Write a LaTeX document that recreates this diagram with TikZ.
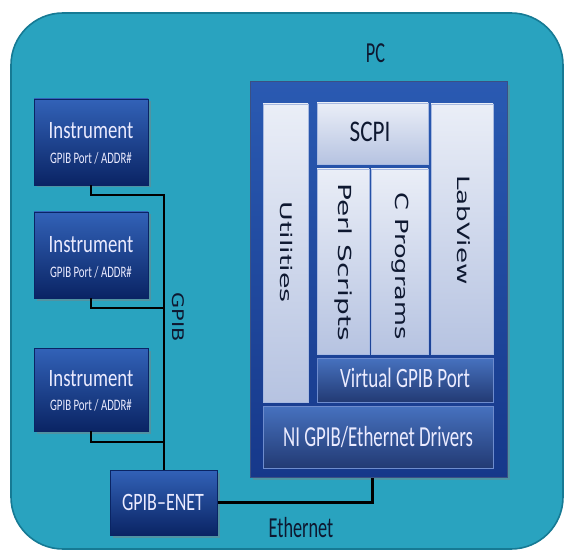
\documentclass[tikz,border=0pt]{standalone}
\usepackage{fontspec}
\setmainfont{Carlito}
\newfontfamily\dvfont{DejaVu Sans}
\usetikzlibrary{shadows}
\newcommand\sqtext[3]{\scalebox{#2}[1]{\fontsize{#1}{#1}\selectfont #3}}
\definecolor{teal1}{RGB}{41,163,191}
\definecolor{tealedge}{RGB}{22,122,148}
\definecolor{navytop}{RGB}{50,98,184}
\definecolor{navybot}{RGB}{10,36,100}
\definecolor{pctop}{RGB}{42,90,178}
\definecolor{pcbot}{RGB}{22,56,138}
\definecolor{lighttop}{RGB}{234,238,247}
\definecolor{lightbot}{RGB}{182,195,225}
\definecolor{inktext}{RGB}{14,24,48}
\definecolor{thinedge}{RGB}{110,140,205}
\begin{document}
\begin{tikzpicture}[x=1pt,y=-1pt,
  navybox/.style={draw=navybot, line width=0.6pt, top color=navytop, bottom color=navybot,
    inner sep=0, drop shadow={shadow xshift=2.5pt,shadow yshift=-2.5pt,opacity=0.45}},
  pcbox/.style={draw=navybot!80, line width=1pt, top color=pctop, bottom color=pcbot,
    inner sep=0, drop shadow={shadow xshift=3pt,shadow yshift=-3pt,opacity=0.4}},
  lightcol/.style={draw=thinedge!60!white, line width=0.5pt, top color=lighttop, bottom color=lightbot, inner sep=0},
  innerdark/.style={draw=thinedge, line width=0.7pt, top color=navytop!90, bottom color=navybot!90, inner sep=0},
  bus/.style={line width=2.2pt, black},
  whitelabel/.style={text=white!92!blue, inner sep=0, anchor=base},
  darklabel/.style={text=inktext, inner sep=0, anchor=base}]
\useasboundingbox (0,0) rectangle (565,556);
% outer frame
\draw[draw=tealedge, line width=1.6pt, fill=teal1, rounded corners=52pt] (11,13) rectangle (563,549);

% PC block
\node[pcbox, minimum width=257pt, minimum height=395pt] (pc) at (378.5,279.5) {};
\node[lightcol, minimum width=45pt, minimum height=298pt] (util) at (285.5,253) {};
\node[lightcol, minimum width=111pt, minimum height=61pt] (scpi) at (372.5,133.5) {};
\node[lightcol, minimum width=52pt, minimum height=185pt] (perl) at (343,261.5) {};
\node[lightcol, minimum width=57pt, minimum height=185pt] (cprog) at (399.5,261.5) {};
\node[lightcol, minimum width=62pt, minimum height=250pt] (labv) at (462,229) {};
\node[innerdark, minimum width=176pt, minimum height=44pt] (vgpib) at (405,380) {};
\node[innerdark, minimum width=230pt, minimum height=62pt] (ni) at (378,437) {};

% PC texts
\node[darklabel] (pclbl) at (375.5,63) {\sqtext{29}{0.63}{PC}};
\node[darklabel] (scpilbl) at (370,142) {\sqtext{30}{0.77}{SCPI}};
\node[whitelabel] (vgpiblbl) at (405,387) {\sqtext{28}{0.68}{Virtual GPIB Port}};
\node[whitelabel] (nilbl) at (378,446) {\sqtext{29}{0.65}{NI GPIB/Ethernet Drivers}};
\node[darklabel, rotate=-90] (utillbl) at (280,252) {\sqtext{16}{1.68}{\dvfont Utilities}};
\node[darklabel, rotate=-90] (perllbl) at (338,262) {\sqtext{18}{1.56}{\dvfont Perl Scripts}};
\node[darklabel, rotate=-90] (cproglbl) at (395,266) {\sqtext{18}{1.42}{\dvfont C Programs}};
\node[darklabel, rotate=-90] (labvlbl) at (457,230) {\sqtext{17}{1.54}{\dvfont LabView}};

% instruments
\node[navybox, minimum width=114pt, minimum height=86pt] (i1) at (91,142) {};
\node[navybox, minimum width=114pt, minimum height=86pt] (i2) at (91,255) {};
\node[navybox, minimum width=114pt, minimum height=83pt] (i3) at (91,389.5) {};
\node[navybox, minimum width=107pt, minimum height=65pt] (enet) at (164,502.5) {};

\node[whitelabel] (i1a) at (91,139) {\sqtext{25}{0.75}{Instrument}};
\node[whitelabel] (i1b) at (91,164) {\sqtext{16}{0.675}{GPIB Port / ADDR\#}};
\node[whitelabel] (i2a) at (91,252) {\sqtext{25}{0.75}{Instrument}};
\node[whitelabel] (i2b) at (91,277) {\sqtext{16}{0.675}{GPIB Port / ADDR\#}};
\node[whitelabel] (i3a) at (91,386) {\sqtext{25}{0.75}{Instrument}};
\node[whitelabel] (i3b) at (91,410) {\sqtext{16}{0.675}{GPIB Port / ADDR\#}};
\node[whitelabel] (enetlbl) at (163,510) {\sqtext{25}{0.72}{GPIB–ENET}};

% connectors
\coordinate (b1) at (164,195);
\coordinate (b2) at (164,308);
\coordinate (b3) at (164,442);
\draw[bus] (i1.south) |- (b1) -- (enet.north);
\draw[bus] (i2.south) |- (b2);
\draw[bus] (i3.south) |- (b3);
\coordinate (ethtop) at ([xshift=123pt]pc.south west);
\draw[bus] (enet.east) -| (ethtop);

\node[darklabel, rotate=-90] (gpiblbl) at (172,317) {\sqtext{16}{1.3}{\dvfont GPIB}};
\node[darklabel] (ethlbl) at (301,537) {\sqtext{29}{0.63}{Ethernet}};
\end{tikzpicture}
\end{document}
